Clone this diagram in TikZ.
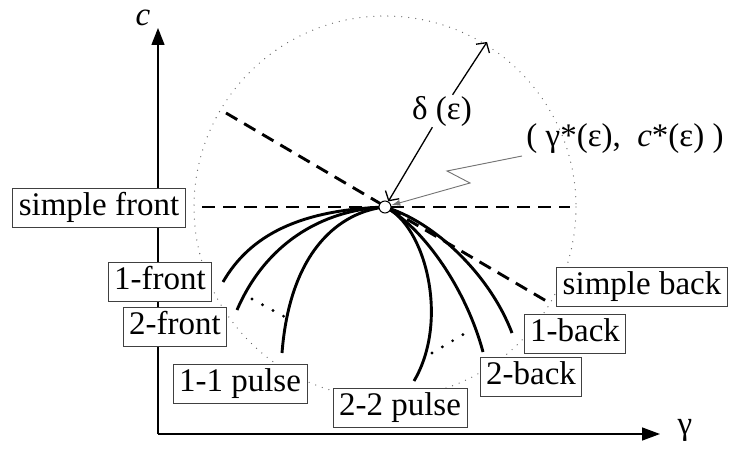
\documentclass[tikz,border=0pt]{standalone}
\usepackage{fontspec}
\setmainfont{Liberation Serif}
\usetikzlibrary{arrows.meta}
\begin{document}
\begin{tikzpicture}[x=1pt,y=-1pt,
  lbl/.style={draw=black!75, line width=0.9pt, fill=white, font=\fontsize{33}{36}\selectfont,
    inner xsep=6pt, inner ysep=4.5pt, text height=23pt, text depth=7.5pt},
  txt/.style={font=\fontsize{33}{36}\selectfont, inner sep=1pt},
  axisline/.style={line width=1.4pt},
  dsh/.style={line width=2.9pt, dash pattern=on 13pt off 8pt},
  crv/.style={line width=2.9pt},
  dotl/.style={line width=3.2pt, dash pattern=on 0pt off 12pt, line cap=round},
  envelope/.style={black!60, line width=1.3pt, dash pattern=on 0pt off 7pt, line cap=round},
  barb/.style={line width=1.3pt},
]
\useasboundingbox (0,0) rectangle (730,449);

% envelope circle
\draw[envelope] (385,207) circle[radius=191];

% axes
\coordinate (O) at (158,434);
\coordinate (Cy) at (158,28);
\coordinate (Gx) at (660,434);
\draw[axisline, -{Triangle[length=17pt,width=13pt]}] (O) -- (Cy);
\draw[axisline, -{Triangle[length=18pt,width=13pt]}] (O) -- (Gx);
\node[txt, font=\fontsize{33}{36}\selectfont\itshape] (cl) at (143,18) {c};
\node[txt] (gl) at (685,430) {γ};

% dashed lines
\coordinate (H1) at (202,207);
\coordinate (H2) at (570,207);
\coordinate (D1) at (226,113);
\coordinate (D2) at (548,302);
\draw[dsh] (H1) -- (H2);
\draw[dsh] (D1) -- (D2);

% curves from the point
\coordinate (Pc) at (385,207);
\coordinate (e1f) at (223,282);
\coordinate (e2f) at (237,310);
\coordinate (e11) at (282,353);
\coordinate (e22) at (414,381);
\coordinate (e2b) at (483,352);
\coordinate (e1b) at (512,333);
\draw[crv] (Pc) .. controls (300,210) and (250,235) .. (e1f);
\draw[crv] (Pc) .. controls (320,210) and (265,245) .. (e2f);
\draw[crv] (Pc) .. controls (340,212) and (290,250) .. (e11);
\draw[crv] (Pc) .. controls (425,225) and (450,320) .. (e22);
\draw[crv] (Pc) .. controls (420,225) and (465,285) .. (e2b);
\draw[crv] (Pc) .. controls (435,222) and (490,275) .. (e1b);

% dotted ellipses
\coordinate (dA1) at (252,299);
\coordinate (dA2) at (285,317);
\coordinate (dB1) at (432,353);
\coordinate (dB2) at (464,334);
\draw[dotl] (dA1) -- (dA2);
\draw[dotl] (dB1) -- (dB2);

% boxes
\node[lbl] (sf) at (99,208) {simple front};
\node[lbl] (f1) at (160,282) {1-front};
\node[lbl] (f2) at (175,327) {2-front};
\node[lbl] (p11) at (240,384) {1-1 pulse};
\node[lbl] (p22) at (400,408) {2-2 pulse};
\node[lbl] (sb) at (642,287) {simple back};
\node[lbl] (b1) at (575,334) {1-back};
\node[lbl] (b2) at (531,377) {2-back};

% the point
\node[circle, draw, fill=white, line width=1pt, minimum size=12pt, inner sep=0pt] (P) at (Pc) {};

% delta arrow
\node[txt] (dl) at (442,111) {δ (ε)};
\coordinate (T) at (487,42);
\draw[barb, -{Straight Barb[length=7pt,width=16pt]}] (dl) -- (P);
\draw[barb, -{Straight Barb[length=7pt,width=16pt]}] (dl) -- (T);

% gamma* label
\node[txt] (gs) at (625,139) {( γ*(ε),\ \ \textit{c}*(ε) )};
\coordinate (Z0) at (522,156);
\coordinate (Z1) at (447,171);
\coordinate (Z2) at (470,183);
\draw[black!55, line width=0.9pt, -{Latex[length=9pt,width=6pt]}] (Z0) -- (Z1) -- (Z2) -- (P);
\end{tikzpicture}
\end{document}
